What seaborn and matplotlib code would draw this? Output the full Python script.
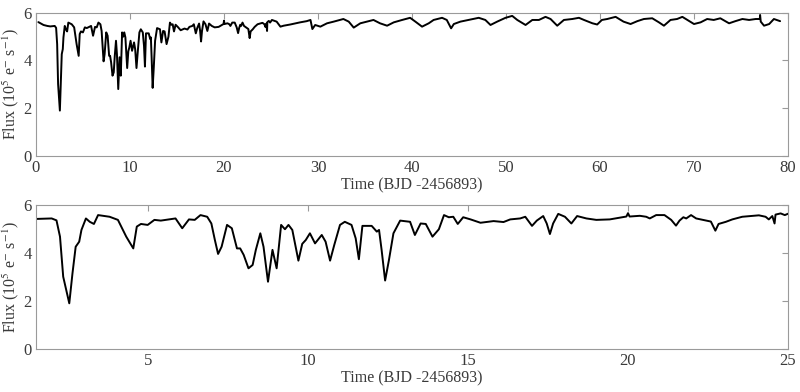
import numpy as np
import pandas as pd
import matplotlib
matplotlib.use('Agg')
import matplotlib.pyplot as plt
import seaborn as sns

# ==================== DATA ====================
# Light curve (time in BJD - 2456893, flux in 1e5 e-/s)
time = [
    0.25, 0.8, 1.2, 1.52, 1.99, 2.14, 2.25, 2.35, 2.54, 2.64, 2.74, 2.85, 2.92,
    3.06, 3.18, 3.31, 3.44, 3.80, 4.06, 4.32, 4.54, 4.65, 4.78, 4.99, 5.20,
    5.40, 5.86, 6.07, 6.28, 6.46, 6.64, 6.85, 6.98, 7.09, 7.19, 7.30, 7.47,
    7.62, 7.78, 7.88, 7.99, 8.14, 8.27, 8.37, 8.51, 8.61, 8.75, 8.89, 9.02,
    9.16, 9.28, 9.39, 9.51, 9.70, 9.82, 9.93, 10.06, 10.22, 10.43, 10.55,
    10.69, 10.82, 11.00, 11.15, 11.36, 11.49, 11.59, 11.70, 11.99, 12.15,
    12.22, 12.30, 12.41, 12.53, 12.67, 12.88, 13.19, 13.34, 13.52, 13.68,
    13.89, 14.09, 14.25, 14.40, 14.54, 14.68, 14.85, 15.08, 15.39, 15.80,
    16.11, 16.32, 16.63, 16.79, 17.00, 17.15, 17.35, 17.46, 17.56, 17.66,
    17.82, 18.03, 18.23, 18.41, 18.70, 19.01, 19.43, 19.95, 20.00, 20.05,
    20.37, 20.57, 20.68, 20.88, 21.14, 21.35, 21.50, 21.61, 21.73, 21.82,
    21.97, 22.13, 22.44, 22.59, 22.73, 22.83, 23.06, 23.26, 23.57, 24.09,
    24.30, 24.40, 24.51, 24.58, 24.61, 24.77, 24.90, 25.1, 25.6, 26.0,
    26.35, 27.05, 28.1, 28.8, 29.2, 29.4, 29.7, 30.25, 30.96, 31.67, 32.7,
    33.27, 33.8, 34.5, 35.2, 35.9, 36.6, 37.35, 38.06, 38.95, 39.8, 40.36,
    41.07, 41.78, 42.3, 43.2, 43.7, 44.16, 44.45, 45.15, 46.0, 47.1, 47.8,
    48.35, 49.06, 49.95, 50.66, 51.2, 52.08, 52.8, 53.5, 54.2, 54.74, 55.45,
    56.16, 57.05, 57.76, 58.3, 59.2, 59.7, 60.2, 60.77, 61.66, 62.5, 63.25,
    63.97, 64.67, 65.56, 66.27, 66.8, 67.5, 68.2, 68.76, 69.3, 70.0, 70.7,
    71.4, 72.1, 72.8, 73.73, 74.4, 75.15, 75.86, 76.57, 77.0, 77.03, 77.1,
    77.45, 78.0, 78.5, 79.16,
]
flux = [
    5.60, 5.48, 5.44, 5.42, 5.44, 5.36, 4.68, 3.01, 1.90, 3.15, 4.26, 4.47, 4.96,
    5.44, 5.30, 5.21, 5.58, 5.51, 5.38, 4.68, 4.19, 5.10, 5.21, 5.17, 5.38,
    5.35, 5.44, 5.03, 5.40, 5.38, 5.58, 5.51, 5.23, 4.54, 3.96, 4.26, 5.17,
    5.03, 4.19, 4.19, 3.92, 3.36, 3.50, 4.13, 4.82, 4.26, 2.80, 4.13, 3.36,
    5.17, 4.99, 5.17, 4.96, 3.68, 4.38, 4.54, 4.82, 4.40, 4.75, 4.47,
    3.68, 4.33, 5.17, 5.30, 5.17, 4.61, 3.74, 5.13, 5.13, 4.89,
    4.96, 4.13, 2.85, 3.71, 4.82, 5.35, 5.30, 4.75, 5.23, 5.21,
    4.68, 4.99, 5.58, 5.49, 5.51, 5.21, 5.49, 5.40, 5.26, 5.33,
    5.29, 5.40, 5.44, 5.51, 5.13, 5.35, 5.54, 5.23, 4.79, 5.23,
    5.63, 5.51, 5.23, 5.54, 5.44, 5.38, 5.40, 5.52, 5.66, 5.52,
    5.55, 5.51, 5.44, 5.58, 5.58, 5.38, 5.14, 5.35, 5.49, 5.44,
    5.58, 5.44, 5.35, 5.31, 4.93, 5.21, 5.30, 5.40, 5.51, 5.57,
    5.51, 5.40, 5.54, 5.23, 5.60, 5.65, 5.58, 5.69, 5.62, 5.41,
    5.45, 5.50, 5.59, 5.64, 5.69, 5.31, 5.48, 5.41, 5.55, 5.62, 5.73,
    5.62, 5.37, 5.55, 5.62, 5.69, 5.55, 5.45, 5.59, 5.69, 5.78, 5.62,
    5.41, 5.55, 5.69, 5.78, 5.69, 5.34, 5.52, 5.62, 5.69, 5.78, 5.69,
    5.48, 5.62, 5.78, 5.86, 5.69, 5.48, 5.69, 5.69, 5.82, 5.73, 5.45,
    5.69, 5.73, 5.78, 5.69, 5.55, 5.50, 5.69, 5.73, 5.82, 5.62, 5.52,
    5.64, 5.73, 5.76, 5.59, 5.45, 5.69, 5.73, 5.82, 5.69, 5.52, 5.59,
    5.73, 5.69, 5.76, 5.55, 5.64, 5.73, 5.69, 5.73, 5.73, 5.90, 5.62,
    5.45, 5.52, 5.73, 5.64,
]

top_xticks = [0, 10, 20, 30, 40, 50, 60, 70, 80]
bottom_xticks = [5, 10, 15, 20, 25]
yticks = [0, 2, 4, 6]
xlabel = 'Time (BJD -2456893)'
ylabel = r'Flux (10$^5$ e$^{\mathsf{-}}$ s$^{-1}$)'

df = pd.DataFrame({'time': time, 'flux': flux})

# ==================== STYLE ====================
sns.set_style('white')
plt.rcParams['font.family'] = ['Liberation Serif', 'DejaVu Serif']
plt.rcParams['mathtext.fontset'] = 'stix'
text_color = '#3a3a3a'
spine_color = '#9a9a9a'

fig = plt.figure(figsize=(8, 3.92), dpi=100)
ax_top = fig.add_axes([0.045, 0.602, 0.94, 0.366])
ax_bot = fig.add_axes([0.045, 0.110, 0.94, 0.367])

panels = [
    (ax_top, (0, 80), top_xticks),
    (ax_bot, (1.5, 25), bottom_xticks),
]

for ax, xlim, xticks in panels:
    sns.lineplot(data=df, x='time', y='flux', ax=ax, color='black',
                 linewidth=1.4, estimator=None)
    ax.set_xlim(*xlim)
    ax.set_ylim(0, 6)
    ax.set_xticks(xticks)
    ax.set_yticks(yticks)
    ax.tick_params(direction='in', length=4, width=0.8, color=spine_color,
                   top=True, right=True, labelsize=12, labelcolor=text_color,
                   pad=3)
    for s in ax.spines.values():
        s.set_color(spine_color)
        s.set_linewidth(0.8)
    ax.set_xlabel(xlabel, fontsize=11.5, color=text_color, labelpad=1)
    ax.set_ylabel(ylabel, fontsize=11.5, color=text_color, labelpad=2)

fig.savefig('out.png', dpi=100)
plt.close(fig)
